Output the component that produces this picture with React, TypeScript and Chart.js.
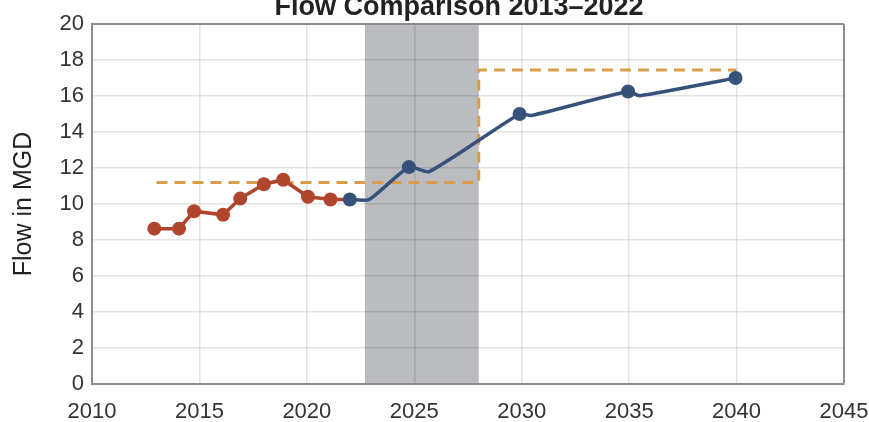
import React, { useEffect, useRef } from "react";
import { Chart, registerables } from "chart.js";

Chart.register(...registerables);

const titleText = "Flow Comparison 2013–2022";
const yAxisTitle = "Flow in MGD";

const histYears = [2012.9, 2014.05, 2014.75, 2016.1, 2016.9, 2018.0, 2018.9, 2020.05, 2021.1, 2022.0];
const histFlow = [8.63, 8.63, 9.6, 9.4, 10.3, 11.1, 11.35, 10.4, 10.25, 10.25];

const projYears = [2022.0, 2022.9, 2024.75, 2025.7, 2029.9, 2030.45, 2034.95, 2035.5, 2039.95];
const projFlow = [10.25, 10.25, 12.05, 11.8, 15.0, 14.92, 16.25, 16.02, 17.0];
const projMarker = [true, false, true, false, true, false, true, false, true];

const capYears = [2013, 2028, 2028, 2040];
const capFlow = [11.2, 11.2, 17.45, 17.45];

const bandStart = 2022.7;
const bandEnd = 2028.0;

const xMin = 2010;
const xMax = 2045;
const yMin = 0;
const yMax = 20;

const FONT = "'Liberation Sans', Arial, sans-serif";

export default function App() {
  const ref = useRef<HTMLCanvasElement | null>(null);

  useEffect(() => {
    document.body.style.margin = "0";
    const canvas = ref.current;
    if (!canvas) return;

    const bandPlugin = {
      id: "band",
      beforeDraw(chart: any) {
        const { ctx, chartArea, scales } = chart;
        const x1 = scales.x.getPixelForValue(bandStart);
        const x2 = scales.x.getPixelForValue(bandEnd);
        ctx.save();
        ctx.fillStyle = "#BBBCC0";
        ctx.fillRect(x1, chartArea.top, x2 - x1, chartArea.bottom - chartArea.top);
        ctx.restore();
      },
    };

    const titlePlugin = {
      id: "topTitle",
      afterDraw(chart: any) {
        const { ctx } = chart;
        ctx.save();
        ctx.font = `bold 27px ${FONT}`;
        ctx.fillStyle = "#222";
        ctx.textAlign = "center";
        ctx.textBaseline = "alphabetic";
        ctx.fillText(titleText, 459, 15);
        ctx.restore();
      },
    };

    const borderCol = "#8c8c8c";
    const gridCol = "rgba(0,0,0,0.11)";

    const chart = new Chart(canvas, {
      type: "line",
      data: {
        datasets: [
          {
            label: "Capacity",
            data: capYears.map((x, i) => ({ x, y: capFlow[i] })),
            borderColor: "#DA9D4B",
            borderWidth: 3,
            borderDash: [11, 7],
            pointRadius: 0,
            tension: 0,
            fill: false,
            order: 3,
          },
          {
            label: "Historical",
            data: histYears.map((x, i) => ({ x, y: histFlow[i] })),
            borderColor: "#B0442C",
            backgroundColor: "#B0442C",
            borderWidth: 3.5,
            pointRadius: histYears.map((_, i) => (i === histYears.length - 1 ? 0 : 7)),
            pointBorderWidth: 0,
            tension: 0,
            fill: false,
            order: 2,
          },
          {
            label: "Projected",
            data: projYears.map((x, i) => ({ x, y: projFlow[i] })),
            borderColor: "#36527A",
            backgroundColor: "#36527A",
            borderWidth: 3.5,
            pointRadius: projMarker.map((m) => (m ? 7 : 0)),
            pointBorderWidth: 0,
            tension: 0.2,
            fill: false,
            order: 1,
          },
        ],
      },
      options: {
        responsive: false,
        animation: false,
        layout: { padding: { top: 24, right: 25, left: 0, bottom: 0 } },
        plugins: {
          legend: { display: false },
          tooltip: { enabled: false },
          title: { display: false },
        },
        scales: {
          x: {
            type: "linear",
            min: xMin,
            max: xMax,
            ticks: {
              stepSize: 5,
              color: "#333",
              font: { family: FONT, size: 22 },
              padding: 15,
              callback: (v: any) => String(v),
              maxRotation: 0,
            },
            grid: {
              drawTicks: false,
              color: (c: any) => (c.tick && c.tick.value === xMax ? borderCol : gridCol),
              lineWidth: (c: any) => (c.tick && c.tick.value === xMax ? 2 : 1.5),
            },
            border: { color: borderCol, width: 2 },
            afterFit: (s: any) => {
              s.height = 38;
              s.paddingRight = 0;
              s.paddingLeft = 0;
            },
          },
          y: {
            min: yMin,
            max: yMax,
            ticks: {
              stepSize: 2,
              color: "#333",
              font: { family: FONT, size: 22 },
              padding: 8,
            },
            grid: {
              drawTicks: false,
              color: (c: any) => (c.tick && c.tick.value === yMax ? borderCol : gridCol),
              lineWidth: (c: any) => (c.tick && c.tick.value === yMax ? 2 : 1.5),
            },
            border: { color: borderCol, width: 2 },
            title: {
              display: true,
              text: yAxisTitle,
              color: "#222",
              font: { family: FONT, size: 25 },
              padding: { top: 9, bottom: 0 },
            },
            afterFit: (s: any) => {
              s.width = 92;
              s.paddingTop = 0;
              s.paddingBottom = 0;
            },
          },
        },
      },
      plugins: [bandPlugin, titlePlugin],
    });

    return () => chart.destroy();
  }, []);

  return (
    <div style={{ width: 869, height: 422 }}>
      <canvas ref={ref} width={869} height={422} />
    </div>
  );
}
